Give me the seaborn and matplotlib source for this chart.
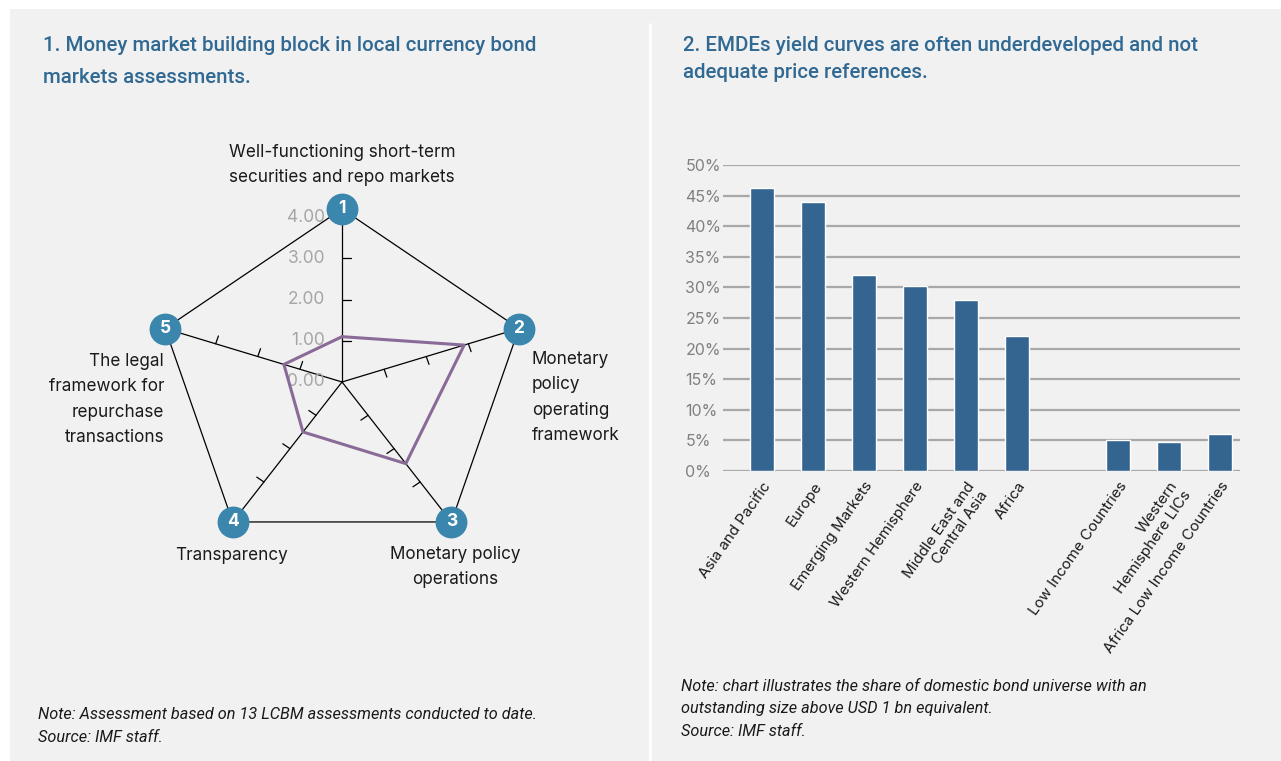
import numpy as np
import pandas as pd
import matplotlib.pyplot as plt
import seaborn as sns
from matplotlib.patches import Rectangle

# --- data: chart 1 (radar) ---
radar_labels = ["Well-functioning short-term\nsecurities and repo markets",
                "Monetary\npolicy\noperating\nframework",
                "Monetary policy\noperations",
                "Transparency",
                "The legal\nframework for\nrepurchase\ntransactions"]
radar_scores = [1.1, 2.9, 2.45, 1.5, 1.38]
radar_ticks = [0, 1, 2, 3, 4]
radar_max = 4.2

# --- data: chart 2 (bars) ---
regions = ["Asia and Pacific", "Europe", "Emerging Markets", "Western Hemisphere",
           "Middle East and\nCentral Asia", "Africa", "",
           "Low Income Countries", "Western\nHemisphere LICs", "Africa Low Income Countries"]
shares = [46.2, 43.9, 32.0, 30.2, 27.9, 22.1, np.nan, 5.0, 4.8, 6.1]
pct_ticks = [0, 5, 10, 15, 20, 25, 30, 35, 40, 45, 50]

sns.set_theme(style="white")
plt.rcParams['font.family'] = ['Inter', 'DejaVu Sans']

blue_title = "#316993"
fig = plt.figure(figsize=(12.81, 7.61), dpi=100, facecolor="white")

# grey panel + white divider
fig.patches.append(Rectangle((10 / 1281, 0), 1, (761 - 9) / 761, transform=fig.transFigure,
                             facecolor="#f1f1f1", edgecolor="none", zorder=-10))
fig.add_artist(plt.Line2D([650 / 1281, 650 / 1281], [0, (761 - 24) / 761], transform=fig.transFigure,
                          color="white", lw=2))

# ---------------- radar ----------------
ax1 = fig.add_axes([0.1218, 0.2707, 0.2904, 0.4547], projection="polar")
ax1.set_theta_offset(np.pi / 2)
ax1.set_theta_direction(-1)
ax1.set_ylim(0, radar_max)
ax1.set_aspect("auto")
ax1.set_facecolor("none")
ax1.grid(False)
ax1.set_xticks([])
ax1.set_yticks([])
ax1.spines["polar"].set_visible(False)

angles = np.linspace(0, 2 * np.pi, len(radar_labels), endpoint=False)
closed = np.append(angles, angles[0])

ax1.plot(closed, [radar_max] * len(closed), color="black", lw=0.9)
tick_len = 0.2
for a in angles:
    ax1.plot([a, a], [0, radar_max], color="black", lw=0.9)
    for t in radar_ticks[1:4]:
        ax1.plot([a, a + np.arctan(tick_len / t)], [t, np.hypot(t, tick_len)], color="black", lw=0.9)

ax1.plot(closed, np.append(radar_scores, radar_scores[0]), color="#8a6b98", lw=2.2, zorder=4)

ax1.scatter(angles, [radar_max] * len(angles), s=480, color="#3a86ad", zorder=5, clip_on=False)
for i, a in enumerate(angles):
    ax1.text(a, radar_max, str(i + 1), ha="center", va="center", color="white",
             fontsize=12.5, fontweight="bold", zorder=6)

for t in radar_ticks:
    ax1.annotate(f"{t:.2f}", xy=(0, t), xytext=(-17, 0), textcoords="offset pixels",
                 ha="right", va="center", color="#a6a6a6", fontsize=12.5)

label_offsets = [(0, 44), (13, -69), (4, -45), (-1, -34), (-1, -71)]
label_ha = ["center", "left", "center", "center", "right"]
for a, lab, off, ha in zip(angles, radar_labels, label_offsets, label_ha):
    ax1.annotate(lab, xy=(a, radar_max), xytext=off, textcoords="offset pixels",
                 ha=ha, va="center", fontsize=12.3, color="#1a1a1a", linespacing=1.65)

# ---------------- bars ----------------
df = pd.DataFrame({"region": regions, "share": shares}).dropna()
ax2 = fig.add_axes([0.5644, 0.3811, 0.4036, 0.4021])
sns.barplot(data=df, x="region", y="share", order=regions, color="#336590",
            saturation=1, width=0.47, ax=ax2)
ax2.set_facecolor("none")
ax2.set_xlim(-0.77, 9.39)
ax2.set_ylim(0, 50)
ax2.set_yticks(pct_ticks)
ax2.set_yticklabels([f"{v}%" for v in pct_ticks])
ax2.yaxis.grid(True, color="#a8a8a8", lw=1.6)
ax2.set_axisbelow(True)
for s in ax2.spines.values():
    s.set_visible(False)
ax2.set_xlabel("")
ax2.set_ylabel("")
ax2.tick_params(axis="y", length=0, pad=27, labelcolor="#808080", labelsize=11.5)
for lab in ax2.get_yticklabels():
    lab.set_horizontalalignment("left")
ax2.tick_params(axis="x", length=0, pad=6, labelsize=10.9, labelcolor="#1a1a1a")
ax2.set_xticks(range(len(regions)))
ax2.set_xticklabels(regions, rotation=55, ha="right", va="top", rotation_mode="anchor")

# ---------------- titles & notes ----------------
title_font = ["Roboto", "DejaVu Sans"]
fig.text(43 / 1281, 1 - 36 / 761, "1. Money market building block in local currency bond\nmarkets assessments.",
         va="top", ha="left", fontsize=14.8, fontweight="medium", color=blue_title,
         linespacing=1.85, family=title_font)
fig.text(683 / 1281, 1 - 36 / 761, "2. EMDEs yield curves are often underdeveloped and not\nadequate price references.",
         va="top", ha="left", fontsize=14.8, fontweight="medium", color=blue_title,
         linespacing=1.55, family=title_font)

fig.text(38 / 1281, 1 - 726 / 761,
         "Note: Assessment based on 13 LCBM assessments conducted to date.\nSource: IMF staff.",
         va="center", ha="left", fontsize=11.7, style="italic", color="#1a1a1a",
         family=["Roboto", "DejaVu Sans"], linespacing=1.6)
fig.text(681 / 1281, 1 - 709 / 761,
         "Note: chart illustrates the share of domestic bond universe with an\n"
         "outstanding size above USD 1 bn equivalent.\nSource: IMF staff.",
         va="center", ha="left", fontsize=11.7, style="italic", color="#1a1a1a",
         family=["Roboto", "DejaVu Sans"], linespacing=1.6)

fig.savefig("out.png", dpi=100, facecolor="white")
